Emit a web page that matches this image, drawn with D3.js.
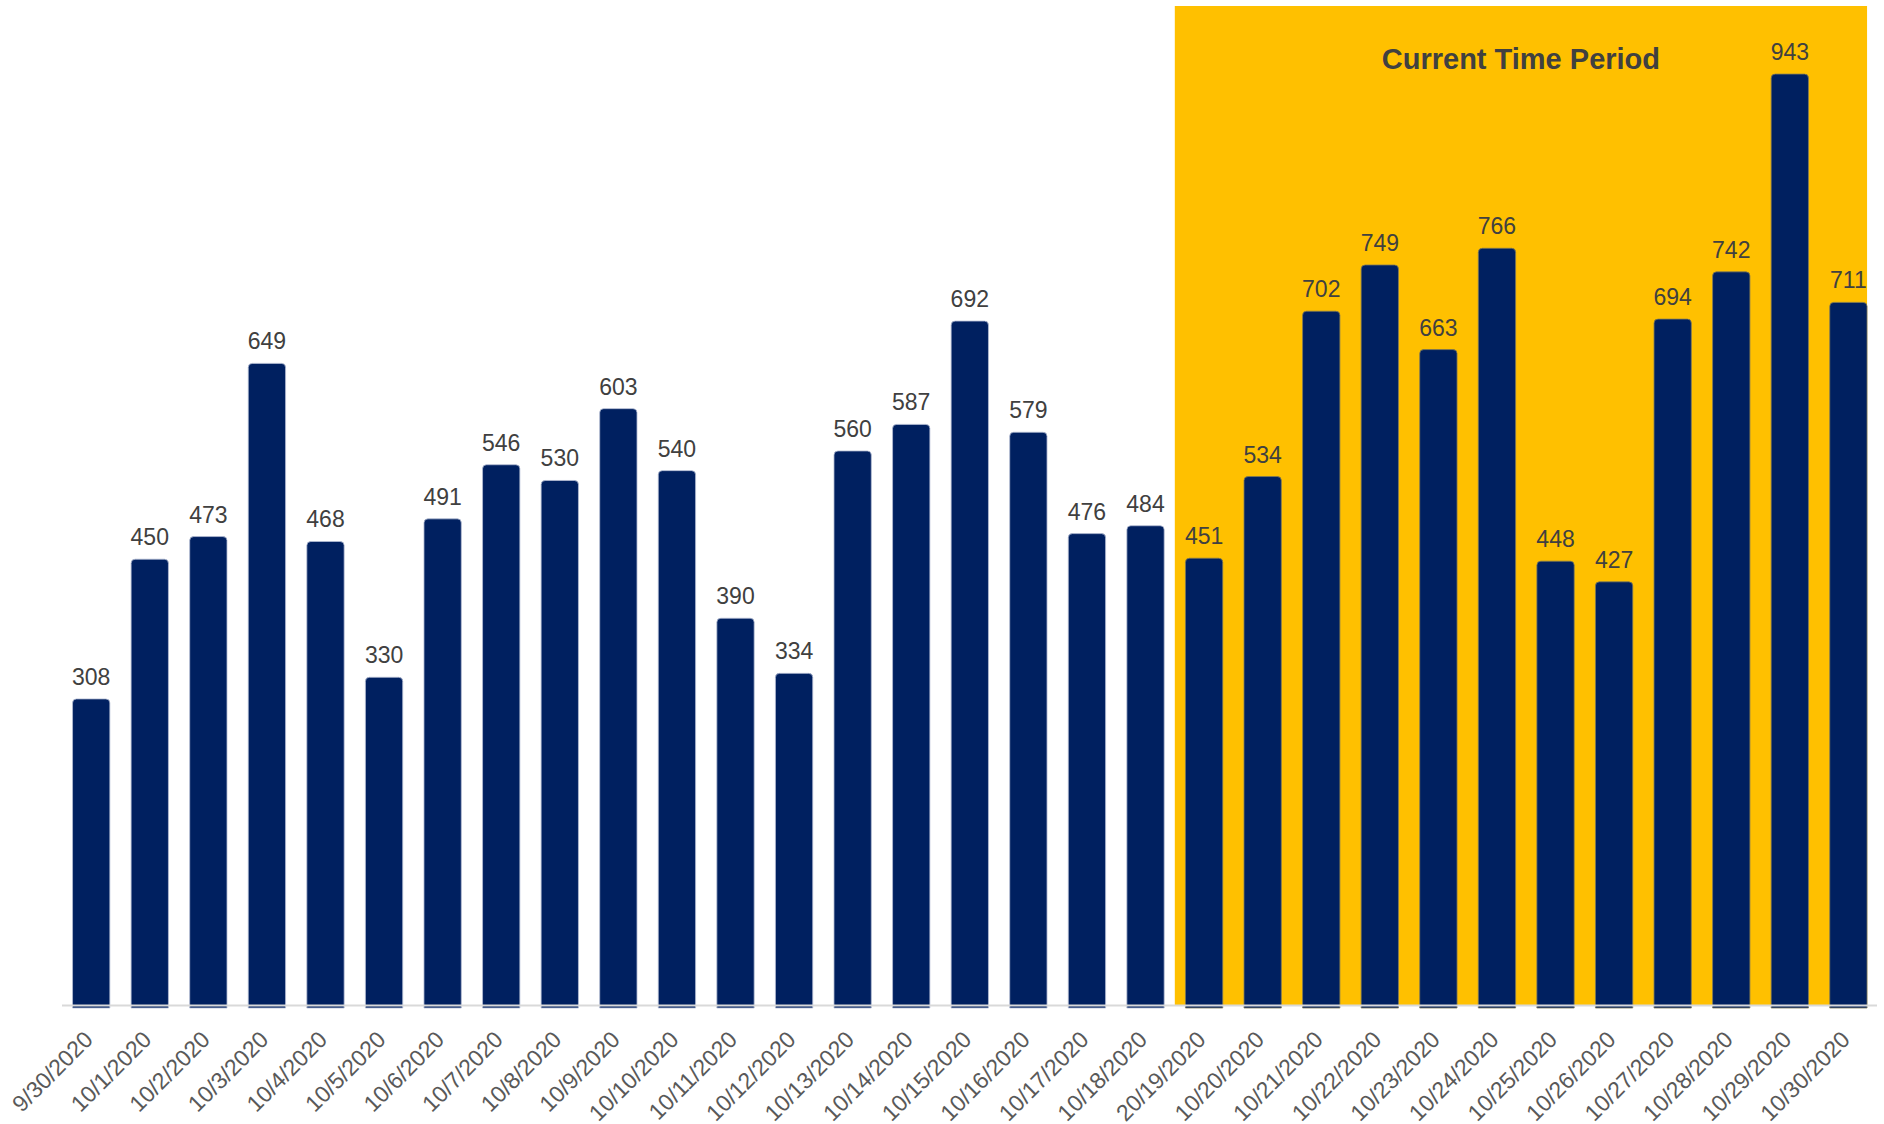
<!DOCTYPE html>
<html>
<head>
<meta charset="utf-8">
<script src="https://cdn.jsdelivr.net/npm/d3@7"></script>
<style>
  body { margin: 0; background: #ffffff; }
  svg { display: block; font-family: 'Liberation Sans', Arial, sans-serif; }
</style>
</head>
<body>
<div id="chart"></div>
<script>
// The data
var dates = ['9/30/2020', '10/1/2020', '10/2/2020', '10/3/2020', '10/4/2020', '10/5/2020',
  '10/6/2020', '10/7/2020', '10/8/2020', '10/9/2020', '10/10/2020', '10/11/2020',
  '10/12/2020', '10/13/2020', '10/14/2020', '10/15/2020', '10/16/2020', '10/17/2020',
  '10/18/2020', '20/19/2020', '10/20/2020', '10/21/2020', '10/22/2020', '10/23/2020',
  '10/24/2020', '10/25/2020', '10/26/2020', '10/27/2020', '10/28/2020', '10/29/2020',
  '10/30/2020'];
var counts = [308, 450, 473, 649, 468, 330, 491, 546, 530, 603, 540, 390, 334, 560, 587,
  692, 579, 476, 484, 451, 534, 702, 749, 663, 766, 448, 427, 694, 742, 943, 711];
var currentStart = '20/19/2020';
var currentLabel = 'Current Time Period';

// Chart dimensions
var width = 1884, height = 1124;
var baseY = 1005;

var svg = d3.select('#chart').append('svg')
    .attr('width', width)
    .attr('height', height);

var x = d3.scaleBand()
    .domain(dates)
    .range([62, 1877.6])
    .paddingInner(0.363)
    .paddingOuter(0.18);

var y = d3.scaleLinear()
    .domain([0, 1000])
    .range([1002, 18]);

// highlighted period
var hx0 = x(currentStart) - x.step() * x.paddingInner() / 2;
var hx1 = x(dates[dates.length - 1]) + x.bandwidth();
svg.append('rect')
    .attr('x', hx0)
    .attr('y', 6)
    .attr('width', hx1 - hx0)
    .attr('height', baseY - 6)
    .style('fill', '#FFC000');

svg.append('text')
    .attr('x', (hx0 + hx1) / 2)
    .attr('y', 69)
    .attr('text-anchor', 'middle')
    .style('font-size', '29px')
    .style('font-weight', 'bold')
    .style('fill', '#404040')
    .text(currentLabel);

// bars with rounded tops
var r = 4;
svg.selectAll('path.bar')
    .data(counts)
    .enter()
  .append('path')
    .attr('class', 'bar')
    .attr('d', function(d, i) {
      var x0 = x(dates[i]), w = x.bandwidth(), top = y(d), bot = baseY + 3;
      return 'M' + x0 + ',' + bot + 'V' + (top + r) + 'Q' + x0 + ',' + top + ' ' + (x0 + r) + ',' + top +
        'H' + (x0 + w - r) + 'Q' + (x0 + w) + ',' + top + ' ' + (x0 + w) + ',' + (top + r) + 'V' + bot + 'Z';
    })
    .style('fill', '#002060')
    .style('stroke', function(d, i) { return i >= dates.indexOf(currentStart) ? '#7f7a5a' : '#b4bdd3'; })
    .style('stroke-width', 0.8);

// axis line
svg.append('line')
    .attr('x1', 62)
    .attr('x2', 1877)
    .attr('y1', baseY + 0.5)
    .attr('y2', baseY + 0.5)
    .style('stroke', '#d9d9d9')
    .style('stroke-width', 2);

// value labels
svg.selectAll('text.val')
    .data(counts)
    .enter()
  .append('text')
    .attr('class', 'val')
    .attr('x', function(d, i) { return x(dates[i]) + x.bandwidth() / 2; })
    .attr('y', function(d) { return y(d) - 14; })
    .attr('text-anchor', 'middle')
    .style('font-size', '23px')
    .style('fill', '#404040')
    .text(function(d) { return d; });

// category labels
svg.selectAll('text.cat')
    .data(dates)
    .enter()
  .append('text')
    .attr('class', 'cat')
    .attr('transform', function(d) {
      return 'translate(' + (x(d) + x.bandwidth() / 2 + 3) + ',' + (baseY + 36) + ') rotate(-45)';
    })
    .attr('text-anchor', 'end')
    .style('font-size', '23px')
    .style('fill', '#595959')
    .text(function(d) { return d; });
</script>
</body>
</html>
